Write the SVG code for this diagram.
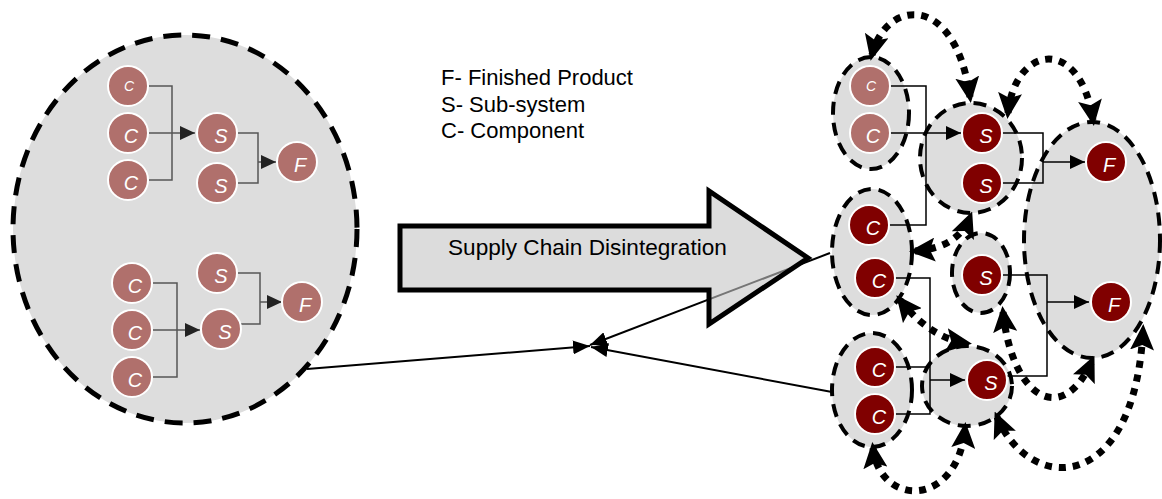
<svg xmlns="http://www.w3.org/2000/svg" width="1162" height="499" viewBox="0 0 1162 499">
<defs>
<style>
.grp{fill:#dddddd;stroke:#000;}
.big{stroke-width:5;stroke-dasharray:18 11;}
.sm{stroke-width:4;stroke-dasharray:13 8;}
.nl{fill:#b0706c;stroke:#fff;stroke-width:2;}
.nd{fill:#800000;stroke:#fff;stroke-width:2;}
.lbl{font-family:"Liberation Sans",Arial,sans-serif;font-style:italic;font-size:20px;fill:#fff;text-anchor:middle;}
.lbls{font-size:14px;}
.gl{fill:none;stroke:#555;stroke-width:1.5;}
.bl{fill:none;stroke:#000;stroke-width:1.5;}
.dot{fill:none;stroke:#000;stroke-width:7;stroke-dasharray:7 7;marker-start:url(#dh);marker-end:url(#dh);}
.txt{font-family:"Liberation Sans",Arial,sans-serif;font-size:22px;fill:#000;}
</style>
<marker id="ah" markerUnits="userSpaceOnUse" markerWidth="16" markerHeight="14" refX="15" refY="7" orient="auto"><path d="M0,0 L15,7 L0,14 z" fill="#222"/></marker>
<marker id="ahb" markerUnits="userSpaceOnUse" markerWidth="16" markerHeight="14" refX="15" refY="7" orient="auto"><path d="M0,0 L15,7 L0,14 z" fill="#000"/></marker>
<marker id="dh" markerUnits="userSpaceOnUse" markerWidth="26" markerHeight="24" refX="20" refY="12" orient="auto-start-reverse"><path d="M0,0 L26,12 L0,24 L5,12 z" fill="#000"/></marker>
<marker id="ch" markerUnits="userSpaceOnUse" markerWidth="18" markerHeight="14" refX="17" refY="7" orient="auto"><path d="M0,0 L17,7 L0,14 z" fill="#000"/></marker>
</defs>

<g id="left-system">
<ellipse class="grp big" cx="185" cy="229" rx="172" ry="194"/>
<g class="gl">
<path d="M149,86 H172 V180 H149"/>
<line x1="149" y1="133" x2="195" y2="133" marker-end="url(#ah)"/>
<path d="M238,133 H258 V183 H238"/>
<line x1="258" y1="162" x2="276" y2="162" marker-end="url(#ah)"/>
<path d="M153,283 H177 V377 H153"/>
<line x1="153" y1="330" x2="200" y2="330" marker-end="url(#ah)"/>
<path d="M238,273 H260 V324 H238"/>
<line x1="260" y1="302" x2="282" y2="302" marker-end="url(#ah)"/>
</g>
<g id="L-c1"><circle class="nl" cx="128" cy="86" r="20"/><text class="lbl lbls" x="129" y="91">C</text></g>
<g id="L-c2"><circle class="nl" cx="128" cy="133" r="20"/><text class="lbl" x="131" y="143">C</text></g>
<g id="L-c3"><circle class="nl" cx="128" cy="180" r="20"/><text class="lbl" x="131" y="190">C</text></g>
<g id="L-s1"><circle class="nl" cx="217" cy="133" r="20"/><text class="lbl" x="221" y="143">S</text></g>
<g id="L-s2"><circle class="nl" cx="217" cy="183" r="20"/><text class="lbl" x="221" y="193">S</text></g>
<g id="L-f1"><circle class="nl" cx="297" cy="162" r="20"/><text class="lbl" x="300" y="172">F</text></g>
<g id="L-c4"><circle class="nl" cx="132" cy="283" r="20"/><text class="lbl" x="135" y="293">C</text></g>
<g id="L-c5"><circle class="nl" cx="132" cy="330" r="20"/><text class="lbl" x="135" y="340">C</text></g>
<g id="L-c6"><circle class="nl" cx="132" cy="377" r="20"/><text class="lbl" x="135" y="387">C</text></g>
<g id="L-s3"><circle class="nl" cx="217" cy="273" r="20"/><text class="lbl" x="221" y="283">S</text></g>
<g id="L-s4"><circle class="nl" cx="221" cy="329" r="20"/><text class="lbl" x="225" y="339">S</text></g>
<g id="L-f2"><circle class="nl" cx="302" cy="302" r="20"/><text class="lbl" x="305" y="312">F</text></g>
</g>

<g id="legend" class="txt">
<text x="441" y="85">F- Finished Product</text>
<text x="441" y="112">S- Sub-system</text>
<text x="441" y="138">C- Component</text>
</g>

<g id="connectors" fill="none" stroke="#000" stroke-width="2">
<line x1="307" y1="369" x2="590" y2="346" marker-end="url(#ch)"/>
<line x1="830" y1="253" x2="590" y2="345" marker-end="url(#ch)"/>
<line x1="832" y1="392" x2="591" y2="347" marker-end="url(#ch)"/>
</g>

<g id="big-arrow">
<polygon points="400,226 709,226 709,191 808,258 709,324 709,290 400,290" fill="#c5c5c5" fill-opacity="0.6" stroke="#000" stroke-width="5"/>
<text class="txt" x="448" y="255" style="font-size:22.6px">Supply Chain Disintegration</text>
</g>

<g id="right-system">
<ellipse id="grpA" class="grp sm" cx="871" cy="113" rx="38" ry="56"/>
<ellipse id="grpB" class="grp sm" cx="971" cy="158" rx="51" ry="55"/>
<ellipse id="grpF" class="grp sm" cx="1092" cy="240" rx="68" ry="118"/>
<ellipse id="grpC" class="grp sm" cx="872" cy="252" rx="40" ry="63"/>
<ellipse id="grpD" class="grp sm" cx="981" cy="273" rx="29" ry="40"/>
<ellipse id="grpE" class="grp sm" cx="872" cy="390" rx="40" ry="57"/>
<ellipse id="grpG" class="grp sm" cx="967" cy="386" rx="45" ry="40"/>
<g class="bl">
<path d="M890,86 H926 V225 H889"/>
<line x1="890" y1="133" x2="961" y2="133" marker-end="url(#ahb)"/>
<path d="M1002,133 H1043 V183 H1002"/>
<line x1="1043" y1="162" x2="1085" y2="162" marker-end="url(#ahb)"/>
<path d="M895,278 H930 V414 H895 M895,367 H930"/>
<line x1="930" y1="380" x2="965" y2="380" marker-end="url(#ahb)"/>
<path d="M1003,275 H1047 V376 H1006"/>
<line x1="1047" y1="302" x2="1089" y2="302" marker-end="url(#ahb)"/>
</g>
<g id="R-c1"><circle class="nl" cx="870" cy="86" r="20"/><text class="lbl lbls" x="871" y="91">C</text></g>
<g id="R-c2"><circle class="nl" cx="870" cy="133" r="20"/><text class="lbl" x="873" y="143">C</text></g>
<g id="R-s1"><circle class="nd" cx="982" cy="133" r="20"/><text class="lbl" x="986" y="143">S</text></g>
<g id="R-s2"><circle class="nd" cx="982" cy="183" r="20"/><text class="lbl" x="986" y="193">S</text></g>
<g id="R-f1"><circle class="nd" cx="1106" cy="162" r="20"/><text class="lbl" x="1109" y="172">F</text></g>
<g id="R-f2"><circle class="nd" cx="1111" cy="302" r="20"/><text class="lbl" x="1114" y="312">F</text></g>
<g id="R-c3"><circle class="nd" cx="869" cy="225" r="20"/><text class="lbl" x="873" y="235">C</text></g>
<g id="R-c4"><circle class="nd" cx="875" cy="278" r="20"/><text class="lbl" x="879" y="288">C</text></g>
<g id="R-s3"><circle class="nd" cx="982" cy="275" r="20"/><text class="lbl" x="986" y="285">S</text></g>
<g id="R-c5"><circle class="nd" cx="875" cy="367" r="20"/><text class="lbl" x="879" y="377">C</text></g>
<g id="R-c6"><circle class="nd" cx="875" cy="414" r="20"/><text class="lbl" x="879" y="424">C</text></g>
<g id="R-s4"><circle class="nd" cx="987" cy="380" r="20"/><text class="lbl" x="991" y="390">S</text></g>
</g>

<g id="dotted-links">
<path class="dot" d="M872,55 C885,0 955,-10 970,97"/>
<path class="dot" d="M1008,113 C1015,45 1080,35 1093,120"/>
<path class="dot" d="M915,251 Q958,248 970,217"/>
<path class="dot" d="M900,300 Q930,338 966,343"/>
<path class="dot" d="M1003,312 C1012,398 1062,428 1092,361"/>
<path class="dot" d="M997,417 C1030,495 1135,495 1143,330"/>
<path class="dot" d="M873,448 C880,508 958,508 965,428"/>
</g>
</svg>
